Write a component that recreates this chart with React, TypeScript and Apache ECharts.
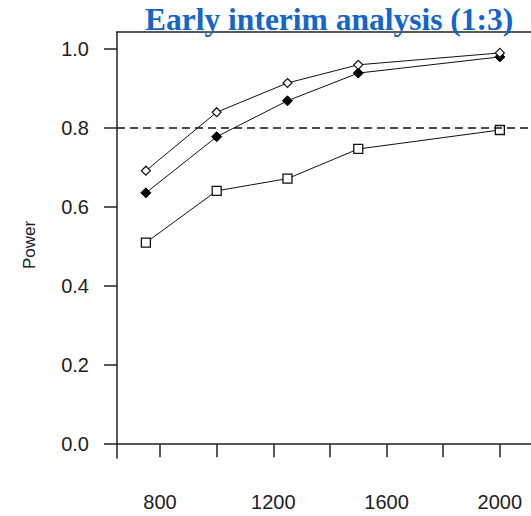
import React, { useEffect, useRef } from "react";
import * as echarts from "echarts";

const sampleSizes = [750, 1000, 1250, 1500, 2000];
const powerOpenDiamond = [0.692, 0.84, 0.914, 0.96, 0.99];
const powerFilledDiamond = [0.636, 0.778, 0.869, 0.939, 0.98];
const powerSquare = [0.51, 0.641, 0.672, 0.747, 0.795];
const targetPower = [0.8];
const xTickValues = [800, 1000, 1200, 1400, 1600, 1800, 2000];
const xLabelValues = [800, 1200, 1600, 2000];
const yTickValues = [0, 0.2, 0.4, 0.6, 0.8, 1.0];

const X_MIN = 648;
const X_MAX = 2110;
const Y_MIN = -0.035;
const Y_MAX = 1.043;

const pairs = (ys: number[]) => sampleSizes.map((x, i) => [x, ys[i]]);

export default function App() {
  const ref = useRef<HTMLDivElement>(null);
  useEffect(() => {
    if (!ref.current) return;
    const chart = echarts.init(ref.current, undefined, { renderer: "svg" });
    const axisColor = "#222";
    const lineStyle = { color: "#111", width: 1 };
    chart.setOption({
      animation: false,
      backgroundColor: "#fff",
      title: {
        text: "Early interim analysis (1:3)",
        left: 145,
        top: 3,
        padding: 0,
        textStyle: {
          fontFamily: "Liberation Serif",
          fontWeight: "bold",
          fontSize: 31.5,
          color: "#1466CC",
        },
      },
      grid: { left: 117, right: 0, top: 32, bottom: 58, containLabel: false },
      xAxis: [
        {
          type: "value",
          min: X_MIN,
          max: X_MAX,
          position: "bottom",
          splitLine: { show: false },
          axisLine: { show: true, lineStyle: { color: axisColor, width: 1.5 } },
          axisTick: {
            show: true,
            length: 13,
            customValues: xTickValues,
            lineStyle: { color: axisColor, width: 1.5 },
          },
          axisLabel: {
            customValues: xLabelValues,
            formatter: (v: number) => String(v),
            margin: 34,
            fontFamily: "Liberation Sans",
            fontSize: 20,
            color: "#222",
          },
        },
        {
          type: "value",
          min: X_MIN,
          max: X_MAX,
          position: "top",
          splitLine: { show: false },
          axisLine: { show: true, lineStyle: { color: axisColor, width: 1.5 } },
          axisTick: { show: false },
          axisLabel: { show: false },
        },
      ],
      yAxis: {
        type: "value",
        min: Y_MIN,
        max: Y_MAX,
        name: "Power",
        nameLocation: "middle",
        nameGap: 79,
        nameTextStyle: { fontFamily: "Liberation Sans", fontSize: 17, color: "#222" },
        splitLine: { show: false },
        axisLine: { show: true, lineStyle: { color: axisColor, width: 1.5 } },
        axisTick: {
          show: true,
          length: 13,
          customValues: yTickValues,
          lineStyle: { color: axisColor, width: 1.5 },
        },
        axisLabel: {
          customValues: yTickValues,
          margin: 28,
          formatter: (v: number) => v.toFixed(1),
          fontFamily: "Liberation Sans",
          fontSize: 20,
          color: "#222",
        },
      },
      series: [
        {
          type: "line",
          data: pairs(powerSquare),
          symbol: "rect",
          symbolSize: 9,
          lineStyle,
          itemStyle: { color: "#fff", borderColor: "#111", borderWidth: 1.3 },
          markLine: {
            silent: true,
            symbol: "none",
            label: { show: false },
            lineStyle: { color: "#111", type: [8, 5], width: 1.5 },
            data: targetPower.map((v) => ({ yAxis: v })),
          },
        },
        {
          type: "line",
          data: pairs(powerFilledDiamond),
          symbol: "diamond",
          symbolSize: 10,
          lineStyle,
          itemStyle: { color: "#000", borderColor: "#000", borderWidth: 1 },
        },
        {
          type: "line",
          data: pairs(powerOpenDiamond),
          symbol: "diamond",
          symbolSize: 9,
          lineStyle,
          itemStyle: { color: "#fff", borderColor: "#111", borderWidth: 1.2 },
        },
      ],
    });
    return () => chart.dispose();
  }, []);
  return (
    <div
      ref={ref}
      style={{ position: "fixed", left: 0, top: 0, width: 531, height: 516 }}
    />
  );
}
